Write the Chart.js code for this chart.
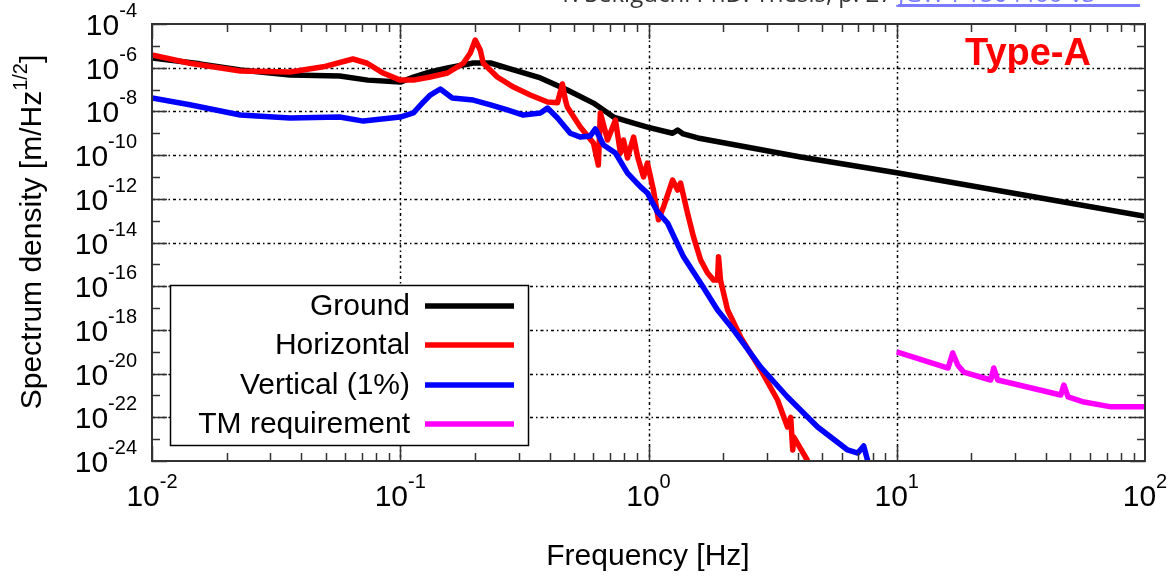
<!DOCTYPE html>
<html>
<head>
<meta charset="utf-8">
<script src="https://cdn.jsdelivr.net/npm/chart.js@4/dist/chart.umd.min.js"></script>
<style>
  html, body { margin: 0; padding: 0; background: #fff; }
  #wrap { width: 1169px; height: 578px; }
</style>
</head>
<body>
<div id="wrap"><canvas id="myChart" width="1169" height="578"></canvas></div>
<script>
// values (frequency in Hz, ASD in m/Hz^1/2)
const groundFreq = [0.01, 0.0156, 0.0227, 0.036, 0.057, 0.074, 0.1, 0.113, 0.132, 0.155, 0.197, 0.231, 0.286, 0.367, 0.471, 0.6, 0.723, 0.871, 0.99, 1.25, 1.31, 1.38, 1.58, 4.1, 10, 30, 100];
const groundAsd = [2.8e-6, 1.5e-6, 7.9e-7, 4.6e-7, 4.2e-7, 2.7e-7, 2.2e-7, 3.75e-7, 6.4e-7, 9.7e-7, 1.64e-6, 1.64e-6, 7.9e-7, 3.4e-7, 9.5e-8, 2.4e-8, 5.5e-9, 2.9e-9, 1.9e-9, 1.0e-9, 1.4e-9, 9.3e-10, 6.1e-10, 8.2e-11, 1.55e-11, 1.75e-12, 1.6e-13];

const horizFreq = [0.01, 0.0142, 0.0227, 0.036, 0.049, 0.0645, 0.0736, 0.0853, 0.1, 0.113, 0.132, 0.155, 0.1795, 0.1915, 0.2005, 0.21, 0.216, 0.246, 0.286, 0.334, 0.392, 0.43, 0.45, 0.4625, 0.471, 0.532, 0.6, 0.628, 0.64, 0.684, 0.736, 0.771, 0.793, 0.823, 0.871, 0.904, 0.955, 0.99, 1.047, 1.097, 1.149, 1.25, 1.31, 1.346, 1.436, 1.518, 1.621, 1.73, 1.83, 1.897, 1.915, 1.95, 2.083, 2.35, 2.83, 3.31, 3.63, 3.74, 3.81, 3.85, 4.38];
const horizAsd = [3.8e-6, 1.6e-6, 7.1e-7, 6.3e-7, 1.1e-6, 2.5e-6, 1.6e-6, 5.7e-7, 2.7e-7, 2.7e-7, 3.75e-7, 5.7e-7, 1.6e-6, 4.7e-6, 1.85e-5, 6.5e-6, 1.6e-6, 3.75e-7, 1.3e-7, 5.6e-8, 2.7e-8, 2.5e-8, 1.8e-7, 3.3e-8, 1.6e-8, 1.9e-9, 3.6e-10, 3.5e-11, 8.5e-9, 4.9e-10, 4.0e-9, 1.25e-10, 4.9e-10, 7.4e-11, 6.7e-10, 8.2e-11, 1.0e-11, 4.3e-11, 2.5e-12, 1.1e-13, 4.2e-13, 7.2e-12, 2.5e-12, 5.3e-12, 2.2e-13, 1.8e-14, 1.6e-15, 4.0e-16, 1.9e-16, 1.9e-16, 2.2e-15, 1.9e-16, 8.1e-18, 4.7e-19, 1.5e-20, 6.2e-22, 3.6e-23, 1.0e-22, 3.2e-24, 1.25e-23, 1e-24];

const vertFreq = [0.01, 0.0142, 0.0227, 0.036, 0.057, 0.071, 0.1, 0.113, 0.124, 0.132, 0.145, 0.162, 0.197, 0.231, 0.27, 0.313, 0.367, 0.392, 0.43, 0.484, 0.532, 0.583, 0.611, 0.659, 0.736, 0.823, 0.929, 0.99, 1.087, 1.193, 1.384, 1.621, 1.897, 2.2, 2.83, 3.63, 4.8, 6.34, 6.97, 7.36, 7.64];
const vertAsd = [4.1e-8, 2.0e-8, 6.8e-9, 5.0e-9, 5.5e-9, 3.6e-9, 5.5e-9, 8.5e-9, 2.7e-8, 5.6e-8, 1.06e-7, 4.1e-8, 3.3e-8, 2.0e-8, 1.16e-8, 6.8e-9, 8.5e-9, 1.43e-8, 5.0e-9, 1.0e-9, 6.7e-10, 7.5e-10, 1.57e-9, 2.9e-10, 1.25e-10, 1.5e-11, 3.5e-12, 1.84e-12, 2.5e-13, 7.8e-14, 2.2e-15, 1.4e-16, 8.1e-18, 1.0e-18, 2.0e-20, 8.5e-22, 3.6e-23, 3.2e-24, 2.3e-24, 4.9e-24, 1.0e-24];

const tmFreq = [10, 16.1, 16.8, 17.6, 18.6, 23.9, 24.6, 25.5, 45.8, 47.1, 49.0, 56.8, 73, 100];
const tmAsd = [9.8e-20, 1.8e-20, 8.8e-20, 2.5e-20, 1.18e-20, 5.1e-21, 1.8e-20, 5.1e-21, 1.05e-21, 3.0e-21, 8.5e-22, 5.0e-22, 3.0e-22, 3.0e-22];

const seriesNames = ['Ground', 'Horizontal', 'Vertical (1%)', 'TM requirement'];
const seriesColors = ['#000000', '#ff0000', '#0000ff', '#ff00ff'];

const xTickExps = ['-2', '-1', '0', '1', '2'];
const yTickExps = ['-4', '-6', '-8', '-10', '-12', '-14', '-16', '-18', '-20', '-22', '-24'];

const FONT = '"Liberation Sans", Arial, sans-serif';

function pts(xs, ys) {
    return xs.map(function (x, i) { return { x: x, y: ys[i] }; });
}

// base text with a superscript, e.g. 10^-4
function supText(ctx, base, sup, x, y, align, size) {
    size = size || 30;
    const supSize = Math.round(size * 0.66);
    ctx.font = size + 'px ' + FONT;
    const wb = ctx.measureText(base).width;
    ctx.font = supSize + 'px ' + FONT;
    const ws = ctx.measureText(sup).width;
    let x0 = x;
    if (align === 'right') x0 = x - wb - ws;
    if (align === 'center') x0 = x - (wb + ws) / 2;
    ctx.textAlign = 'left';
    ctx.textBaseline = 'alphabetic';
    ctx.font = size + 'px ' + FONT;
    ctx.fillText(base, x0, y);
    ctx.font = supSize + 'px ' + FONT;
    ctx.fillText(sup, x0 + wb, y - Math.round(size * 0.6));
}

const framePlugin = {
    id: 'framePlugin',
    beforeDatasetsDraw(chart) {
        const ctx = chart.ctx, a = chart.chartArea;
        const xs = chart.scales.x, ys = chart.scales.y;
        ctx.save();
        ctx.strokeStyle = '#000';
        ctx.lineWidth = 1.5;
        ctx.setLineDash([3, 3, 1.5, 3]);
        xTickExps.forEach(function (e) {
            const px = Math.round(xs.getPixelForValue(Number('1e' + e))) + 0.5;
            if (px <= a.left + 2 || px >= a.right - 2) return;
            ctx.beginPath(); ctx.moveTo(px, a.top); ctx.lineTo(px, a.bottom); ctx.stroke();
        });
        yTickExps.forEach(function (e) {
            const py = Math.round(ys.getPixelForValue(Number('1e' + e))) + 0.5;
            if (py <= a.top + 2 || py >= a.bottom - 2) return;
            ctx.beginPath(); ctx.moveTo(a.left, py); ctx.lineTo(a.right, py); ctx.stroke();
        });
        ctx.restore();
    },
    afterDatasetsDraw(chart) {
        const ctx = chart.ctx, a = chart.chartArea;
        const xs = chart.scales.x, ys = chart.scales.y;
        ctx.save();
        ctx.strokeStyle = '#333';
        ctx.lineWidth = 2;
        ctx.setLineDash([]);
        ctx.strokeRect(a.left, a.top, a.right - a.left, a.bottom - a.top);
        ctx.lineWidth = 1.5;
        // x ticks
        for (let d = -2; d <= 1; d++) {
            for (let k = 1; k <= 9; k++) {
                const px = Math.round(xs.getPixelForValue(k * Math.pow(10, d))) + 0.5;
                const len = k === 1 ? 15 : 8;
                ctx.beginPath();
                ctx.moveTo(px, a.bottom); ctx.lineTo(px, a.bottom - len);
                ctx.moveTo(px, a.top); ctx.lineTo(px, a.top + len);
                ctx.stroke();
            }
        }
        // y ticks, every decade
        for (let d = -24; d <= -4; d++) {
            const py = Math.round(ys.getPixelForValue(Number('1e' + d))) + 0.5;
            const len = (d % 2 === 0) ? 15 : 8;
            ctx.beginPath();
            ctx.moveTo(a.left, py); ctx.lineTo(a.left + len, py);
            ctx.moveTo(a.right, py); ctx.lineTo(a.right - len, py);
            ctx.stroke();
        }
        // legend box
        ctx.fillStyle = '#fff';
        ctx.fillRect(170, 285, 358, 160);
        ctx.strokeStyle = '#000';
        ctx.lineWidth = 1.5;
        ctx.strokeRect(170.5, 285.5, 358, 160);
        const rows = [306, 345, 385, 424];
        ctx.font = '30px ' + FONT;
        ctx.textAlign = 'right';
        ctx.textBaseline = 'middle';
        seriesNames.forEach(function (name, i) {
            ctx.fillStyle = '#000';
            ctx.fillText(name, 410, rows[i] + 1);
            ctx.strokeStyle = seriesColors[i];
            ctx.lineWidth = 5.5;
            ctx.beginPath(); ctx.moveTo(425, rows[i]); ctx.lineTo(514, rows[i]); ctx.stroke();
        });
        ctx.restore();
    },
    afterDraw(chart) {
        const ctx = chart.ctx;
        const xs = chart.scales.x, ys = chart.scales.y;
        ctx.save();
        ctx.fillStyle = '#000';
        xTickExps.forEach(function (e) {
            const px = xs.getPixelForValue(Number('1e' + e));
            supText(ctx, '10', e, px, 506, 'center');
        });
        yTickExps.forEach(function (e) {
            const py = ys.getPixelForValue(Number('1e' + e));
            supText(ctx, '10', e, 137, py + 11, 'right');
        });
        // axis titles
        ctx.font = '30px ' + FONT;
        ctx.textAlign = 'center';
        ctx.textBaseline = 'alphabetic';
        ctx.fillText('Frequency [Hz]', 648, 565);

        ctx.translate(0, 232);
        ctx.rotate(-Math.PI / 2);
        const t1 = 'Spectrum density [m/Hz', t2 = '1/2', t3 = ']';
        ctx.font = '30px ' + FONT;
        const w1 = ctx.measureText(t1).width, w3 = ctx.measureText(t3).width;
        ctx.font = '20px ' + FONT;
        const w2 = ctx.measureText(t2).width;
        let u = -(w1 + w2 + w3) / 2;
        ctx.textAlign = 'left';
        ctx.font = '30px ' + FONT;
        ctx.fillText(t1, u, 41);
        ctx.font = '20px ' + FONT;
        ctx.fillText(t2, u + w1, 27);
        ctx.font = '30px ' + FONT;
        ctx.fillText(t3, u + w1 + w2, 41);
        ctx.restore();

        ctx.save();
        ctx.fillStyle = '#ff0000';
        ctx.font = 'bold 38px ' + FONT;
        ctx.textAlign = 'left';
        ctx.textBaseline = 'alphabetic';
        ctx.fillText('Type-A', 965, 65);

        // caption at the top, cut off by the page edge
        ctx.font = '24px "Open Sans", sans-serif';
        ctx.fillStyle = '#333';
        ctx.textAlign = 'right';
        ctx.fillText('T. Sekiguchi PhD. Thesis, p. 27', 893, 2);
        ctx.fillStyle = '#7b7bff';
        ctx.textAlign = 'left';
        ctx.fillText('JGW-P1504466-v3', 898, 2, 242);
        ctx.fillRect(898, 4, 242, 3);
        ctx.restore();
    }
};

let ctx = document.getElementById('myChart').getContext('2d');
let myChart = new Chart(ctx, {
    type: 'line',
    data: {
        datasets: [
            { label: seriesNames[0], data: pts(groundFreq, groundAsd), borderColor: seriesColors[0], borderWidth: 5.5, order: 4 },
            { label: seriesNames[1], data: pts(horizFreq, horizAsd), borderColor: seriesColors[1], borderWidth: 5.5, order: 3 },
            { label: seriesNames[2], data: pts(vertFreq, vertAsd), borderColor: seriesColors[2], borderWidth: 5.5, order: 2 },
            { label: seriesNames[3], data: pts(tmFreq, tmAsd), borderColor: seriesColors[3], borderWidth: 5.5, order: 1 }
        ]
    },
    options: {
        responsive: false,
        animation: false,
        events: [],
        layout: { padding: { left: 152, right: 24, top: 24, bottom: 117 } },
        elements: {
            line: { tension: 0, borderJoinStyle: 'round', borderCapStyle: 'butt' },
            point: { radius: 0 }
        },
        scales: {
            x: { type: 'logarithmic', min: 0.01, max: 100, display: false },
            y: { type: 'logarithmic', min: 1e-24, max: 1e-4, display: false }
        },
        plugins: {
            legend: { display: false },
            tooltip: { enabled: false }
        }
    },
    plugins: [framePlugin]
});
</script>
</body>
</html>
